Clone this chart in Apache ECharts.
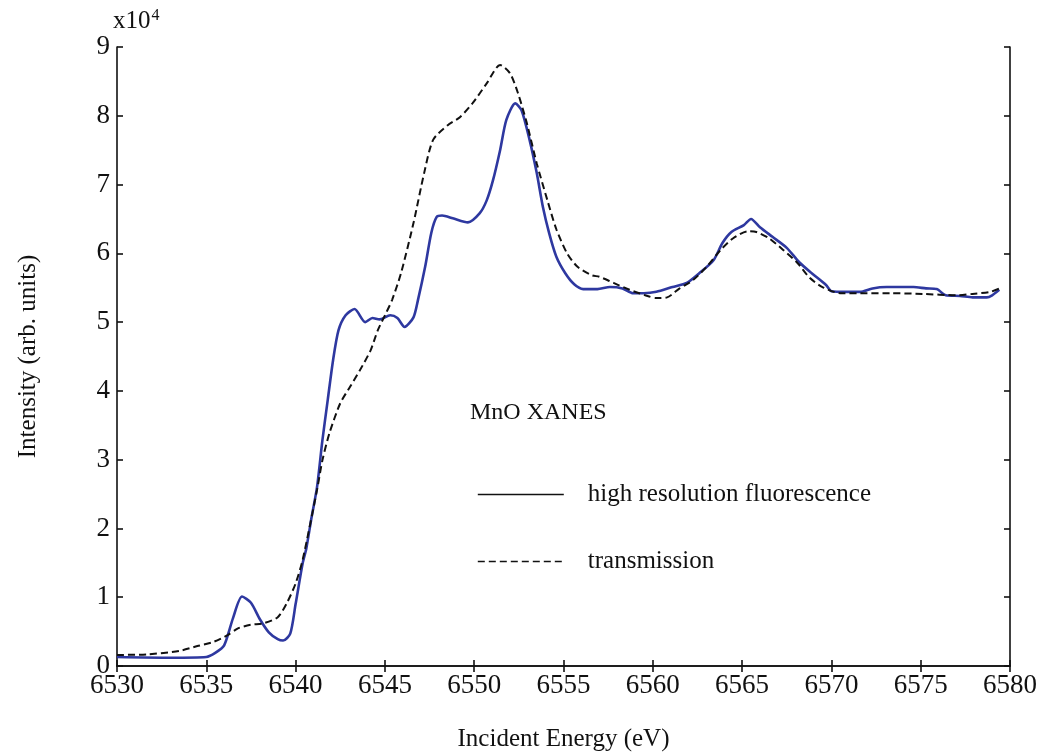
<!DOCTYPE html>
<html>
<head>
<meta charset="utf-8">
<script src="https://cdn.jsdelivr.net/npm/echarts@6/dist/echarts.min.js"></script>
<style>
  html, body { margin: 0; padding: 0; background: #fff; }
  #chart { width: 1040px; height: 755px; }
</style>
</head>
<body>
<div id="chart"></div>
<script>
// energies in eV, intensities in units of 1e4
var fluoEnergy = [6530, 6533, 6535, 6535.5, 6536, 6536.5, 6537, 6537.5, 6538, 6538.5, 6539, 6539.3, 6539.7, 6540, 6540.4, 6540.6, 6540.9, 6541.2, 6541.5, 6541.8, 6542.1, 6542.4, 6542.8, 6543.3, 6543.9, 6544.3, 6544.7, 6545.3, 6545.7, 6546.1, 6546.6, 6546.85, 6547.25, 6547.6, 6547.9, 6548.2, 6548.8, 6549.65, 6550.3, 6550.7, 6551.05, 6551.45, 6551.8, 6552.3, 6552.65, 6553.1, 6553.5, 6553.85, 6554.2, 6554.6, 6555.1, 6555.6, 6556.1, 6556.9, 6557.6, 6558.3, 6558.9, 6559.5, 6560.2, 6561.1, 6561.9, 6562.6, 6563.4, 6563.9, 6564.4, 6565.1, 6565.5, 6566, 6566.7, 6567.5, 6568.2, 6568.9, 6569.7, 6570, 6570.8, 6571.6, 6572.3, 6573.1, 6573.8, 6574.6, 6575.3, 6575.9, 6576.4, 6577.2, 6577.9, 6578.7, 6579, 6579.4];
var fluoValue = [0.13, 0.12, 0.13, 0.19, 0.30, 0.70, 1.01, 0.92, 0.68, 0.49, 0.39, 0.37, 0.47, 0.90, 1.5, 1.71, 2.17, 2.6, 3.28, 3.87, 4.45, 4.88, 5.1, 5.19, 5.0, 5.06, 5.04, 5.1, 5.06, 4.93, 5.07, 5.32, 5.8, 6.3, 6.53, 6.55, 6.51, 6.45, 6.58, 6.77, 7.06, 7.5, 7.94, 8.18, 8.08, 7.65, 7.17, 6.67, 6.29, 5.95, 5.71, 5.55, 5.48, 5.48, 5.51, 5.49, 5.42, 5.42, 5.44, 5.51, 5.57, 5.71, 5.9, 6.15, 6.31, 6.41, 6.5, 6.38, 6.24, 6.08, 5.87, 5.71, 5.54, 5.45, 5.44, 5.44, 5.49, 5.51, 5.51, 5.51, 5.49, 5.48, 5.39, 5.38, 5.36, 5.36, 5.39, 5.47];

var transEnergy = [6530, 6531.7, 6533.5, 6534.5, 6535.4, 6536.2, 6536.8, 6537.5, 6538.2, 6539, 6539.5, 6540, 6540.4, 6541.2, 6541.5, 6541.9, 6542.5, 6543.05, 6543.6, 6544.2, 6544.6, 6545.1, 6545.4, 6545.9, 6546.6, 6547.2, 6547.7, 6548.5, 6549.2, 6549.9, 6550.7, 6551.45, 6552, 6552.45, 6552.95, 6553.5, 6554.1, 6554.6, 6555.2, 6555.8, 6556.6, 6557, 6557.8, 6558.7, 6559.7, 6560.2, 6560.8, 6561.5, 6562.25, 6563, 6563.8, 6564.5, 6565.3, 6565.8, 6566.5, 6567.3, 6568.1, 6568.8, 6569.5, 6570.5, 6571.6, 6573.3, 6575.1, 6577, 6577.9, 6578.9, 6579.4];
var transValue = [0.16, 0.17, 0.22, 0.29, 0.35, 0.45, 0.55, 0.6, 0.62, 0.71, 0.91, 1.2, 1.55, 2.56, 2.99, 3.39, 3.82, 4.06, 4.3, 4.59, 4.88, 5.15, 5.32, 5.71, 6.44, 7.17, 7.65, 7.86, 7.98, 8.18, 8.47, 8.74, 8.62, 8.33, 7.89, 7.31, 6.77, 6.35, 6.0, 5.8, 5.68, 5.66, 5.57, 5.47, 5.38, 5.35, 5.36, 5.49, 5.61, 5.8, 6.05, 6.22, 6.32, 6.31, 6.22, 6.05, 5.86, 5.64, 5.51, 5.42, 5.42, 5.42, 5.41, 5.39, 5.41, 5.44, 5.49];

var xTicks = [6530, 6535, 6540, 6545, 6550, 6555, 6560, 6565, 6570, 6575, 6580];
var yTicks = [0, 1, 2, 3, 4, 5, 6, 7, 8, 9];

var seriesNames = ['high resolution fluorescence', 'transmission'];

function pairs(xs, ys) {
    return xs.map(function (x, i) { return [x, ys[i]]; });
}

var font = '"Liberation Serif", "Times New Roman", serif';
var myChart = echarts.init(document.getElementById('chart'));

var axisLine = { lineStyle: { color: '#111', width: 1.6 } };
var axisTick = { inside: true, length: 6, lineStyle: { color: '#111', width: 1.6 } };

var option = {
    animation: false,
    backgroundColor: '#fff',
    textStyle: { fontFamily: font },
    grid: { left: 117, right: 30, top: 47, bottom: 89, containLabel: false, outerBoundsMode: 'none' },
    title: {
        text: 'MnO XANES',
        left: 470,
        top: 401,
        padding: 0,
        textStyle: { fontFamily: font, fontSize: 24, fontWeight: 'normal', color: '#111' }
    },
    legend: {
        orient: 'vertical',
        left: 472,
        top: 477,
        padding: 5,
        itemWidth: 86,
        itemHeight: 14,
        itemGap: 42,
        data: seriesNames,
        itemStyle: { opacity: 0 },
        lineStyle: { width: 1.6, color: '#111' },
        textStyle: { fontFamily: font, fontSize: 25, lineHeight: 25, color: '#111', padding: [0, 0, 0, 19] }
    },
    graphic: [{
        type: 'text',
        left: 113,
        top: 8,
        style: {
            text: '{a|x10}{b|4}',
            rich: {
                a: { fontFamily: font, fontSize: 25, fill: '#111', verticalAlign: 'bottom' },
                b: { fontFamily: font, fontSize: 16, fill: '#111', verticalAlign: 'top', padding: [0, 0, 10, 1] }
            }
        }
    }],
    xAxis: [{
        type: 'value',
        min: 6530,
        max: 6580,
        interval: 5,
        name: 'Incident Energy (eV)',
        nameLocation: 'middle',
        nameGap: 61,
        nameTextStyle: { fontFamily: font, fontSize: 25, color: '#111' },
        axisLine: axisLine,
        axisTick: axisTick,
        splitLine: { show: false },
        axisLabel: {
            fontFamily: font, fontSize: 27, color: '#111', margin: 6,
            formatter: function (v) { return xTicks.indexOf(v) >= 0 ? String(v) : ''; }
        }
    }, {
        type: 'value',
        position: 'top',
        min: 6530,
        max: 6580,
        interval: 5,
        axisLine: axisLine,
        axisTick: axisTick,
        splitLine: { show: false },
        axisLabel: { show: false }
    }],
    yAxis: [{
        type: 'value',
        min: 0,
        max: 9,
        interval: 1,
        name: 'Intensity (arb. units)',
        nameLocation: 'middle',
        nameGap: 76,
        nameTextStyle: { fontFamily: font, fontSize: 25, color: '#111' },
        axisLine: axisLine,
        axisTick: axisTick,
        splitLine: { show: false },
        axisLabel: {
            fontFamily: font, fontSize: 27, color: '#111', margin: 7,
            formatter: function (v) { return yTicks.indexOf(v) >= 0 ? String(v) : ''; }
        }
    }, {
        type: 'value',
        position: 'right',
        min: 0,
        max: 9,
        interval: 1,
        axisLine: axisLine,
        axisTick: axisTick,
        splitLine: { show: false },
        axisLabel: { show: false }
    }],
    series: [{
        name: seriesNames[0],
        type: 'line',
        data: pairs(fluoEnergy, fluoValue),
        symbol: 'none',
        smooth: 0.25,
        color: '#2e38a0',
        lineStyle: { color: '#2e38a0', width: 2.6 },
        z: 3
    }, {
        name: seriesNames[1],
        type: 'line',
        data: pairs(transEnergy, transValue),
        symbol: 'none',
        smooth: 0.25,
        color: '#111',
        lineStyle: { color: '#111', width: 2, type: [7, 4] },
        z: 4
    }]
};
myChart.setOption(option);
</script>
</body>
</html>
